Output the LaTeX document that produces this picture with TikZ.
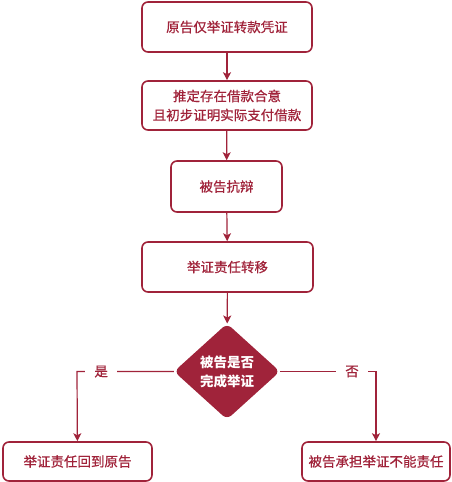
\documentclass[tikz,border=0pt]{standalone}
\usepackage{fontspec}
\setmainfont{Noto Sans CJK SC}
\newfontfamily\cuti[FakeBold=0.6]{Noto Sans CJK SC}
\usetikzlibrary{arrows.meta,shapes.geometric}
\definecolor{shenhong}{HTML}{A0233A}

\begin{document}
\begin{tikzpicture}[x=1pt, y=-1pt, >={Stealth[length=8pt,width=8pt,inset=2pt]},
    kuang/.style={draw=shenhong, line width=1.6pt, rounded corners=6pt, text=shenhong,
        align=center, inner sep=0pt, font=\fontsize{13.5}{19}\cuti},
    panduan/.style={diamond, fill=shenhong, rounded corners=6pt, text=white, align=center,
        inner sep=0pt, minimum width=106pt, minimum height=96pt, font=\fontsize{13.5}{19}\selectfont\bfseries},
    xian/.style={draw=shenhong, line width=1.2pt},
    shifou/.style={fill=white, text=shenhong, inner xsep=9pt, font=\fontsize{13.5}{16}\cuti}]
    \useasboundingbox (0,0) rectangle (452,482);

    % 各步骤框
    \node[kuang, minimum width=170pt, minimum height=50pt] (pingzheng) at (227,27) {原告仅举证转款凭证};
    \node[kuang, minimum width=170pt, minimum height=49pt] (tuiding) at (227,105.5) {推定存在借款合意\\且初步证明实际支付借款};
    \node[kuang, minimum width=111pt, minimum height=51pt] (kangbian) at (226.5,186.5) {被告抗辩};
    \node[kuang, minimum width=171pt, minimum height=50pt] (zhuanyi) at (227.5,267) {举证责任转移};

    % 判断
    \node[panduan] (wancheng) at (227,371.5) {被告是否\\完成举证};

    % 结果框
    \node[kuang, minimum width=149pt, minimum height=39pt] (huidao) at (77.5,461.5) {举证责任回到原告};
    \node[kuang, minimum width=148pt, minimum height=39pt] (chengdan) at (376,461.5) {被告承担举证不能责任};

    % 拐点
    \coordinate (zuo) at (77,371.5);
    \coordinate (you) at (376,371.5);

    % 连线
    \draw[xian, ->] (pingzheng) -- (tuiding);
    \draw[xian, ->] (tuiding) -- (kangbian);
    \draw[xian, ->] (kangbian) -- (zhuanyi);
    \draw[xian, ->] (zhuanyi) -- (wancheng);
    \draw[xian, ->] (wancheng.west) -- (zuo) node[shifou, pos=0.75] {是} -- (huidao);
    \draw[xian, ->] (wancheng.east) -- (you) node[shifou, pos=0.75] {否} -- (chengdan);
\end{tikzpicture}
\end{document}
